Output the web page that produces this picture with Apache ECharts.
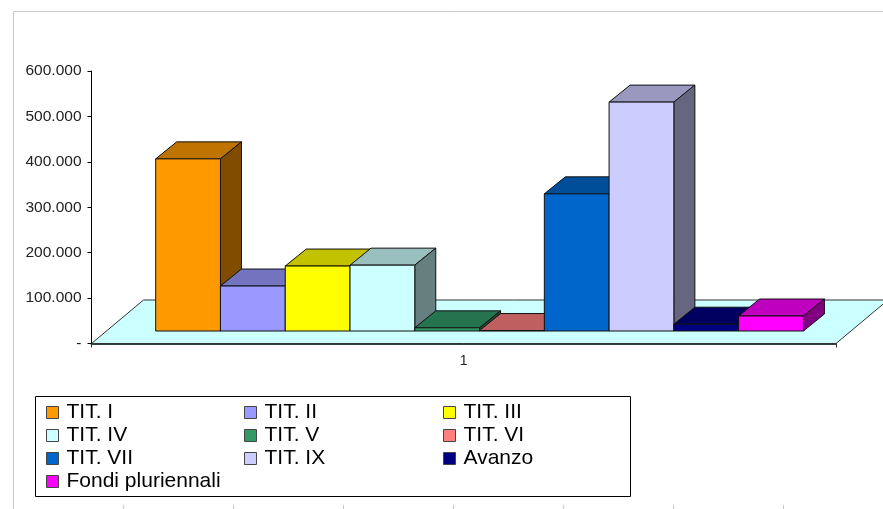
<!DOCTYPE html>
<html>
<head>
<meta charset="utf-8">
<title>Titoli</title>
<script src="https://cdn.jsdelivr.net/npm/echarts@6/dist/echarts.min.js"></script>
<style>
html, body { margin: 0; padding: 0; background: #fff; }
#chart { width: 883px; height: 509px; }
</style>
</head>
<body>
<div id="chart"></div>
<script>
var categories = ['1'];
var seriesNames = ['TIT. I', 'TIT. II', 'TIT. III', 'TIT. IV', 'TIT. V', 'TIT. VI', 'TIT. VII', 'TIT. IX', 'Avanzo', 'Fondi pluriennali'];
var seriesValues = [379000, 99000, 143000, 145000, 7000, 1000, 302000, 504000, 15000, 33000];
var yTicks = [0, 100000, 200000, 300000, 400000, 500000, 600000];

// front, top, side face of every bar
var frontColors = ['#FF9900', '#9999FF', '#FFFF00', '#CCFFFF', '#339966', '#FF8080', '#0066CC', '#CCCCFF', '#000080', '#FF00FF'];
var topColors = ['#BF7300', '#7373BF', '#C2C200', '#99BFBF', '#267350', '#BF6060', '#004D99', '#9999BF', '#000060', '#BF00BF'];
var sideColors = ['#804D00', '#4D4D80', '#808000', '#668080', '#1A4D33', '#804040', '#003366', '#666680', '#000040', '#800080'];

var FONT = '"Liberation Sans", Arial, sans-serif';
// projection of the floor and the bars, in pixels
var floorDepth = [52, -43.5];
var barOffset = [15.8, -12.5];
var barDepth = [21, -17];
var barShare = 0.87;

function poly(points, fill, stroke) {
    return {
        type: 'polygon',
        shape: { points: points },
        style: { fill: fill, stroke: stroke || '#111', lineWidth: 1 }
    };
}

function renderFloor(params, api) {
    var cs = params.coordSys;
    var x0 = cs.x, x1 = cs.x + cs.width, y = cs.y + cs.height;
    return poly([
        [x0, y], [x1, y],
        [x1 + floorDepth[0], y + floorDepth[1]],
        [x0 + floorDepth[0], y + floorDepth[1]]
    ], '#CCFFFF', '#333');
}

function barRenderer(i) {
    return function (params, api) {
        var band = api.size([1, 0])[0];
        var center = api.coord([api.value(0), 0]);
        var top = api.coord([api.value(0), api.value(1)]);
        var w = band * barShare / seriesNames.length;
        var x0 = center[0] - band / 2 + barOffset[0] + band * (1 - barShare) / 2 + i * w;
        var x1 = x0 + w;
        var yb = center[1] + barOffset[1];
        var yt = top[1] + barOffset[1];
        var dx = barDepth[0], dy = barDepth[1];
        return {
            type: 'group',
            children: [
                poly([[x0, yt], [x1, yt], [x1 + dx, yt + dy], [x0 + dx, yt + dy]], topColors[i]),
                poly([[x1, yb], [x1 + dx, yb + dy], [x1 + dx, yt + dy], [x1, yt]], sideColors[i]),
                poly([[x0, yb], [x1, yb], [x1, yt], [x0, yt]], frontColors[i])
            ]
        };
    };
}

var series = [{
    type: 'custom',
    name: 'floor',
    silent: true,
    renderItem: renderFloor,
    data: [[0, 0]],
    encode: { x: 0, y: 1 }
}];
seriesNames.forEach(function (name, i) {
    series.push({
        type: 'custom',
        name: name,
        itemStyle: { color: frontColors[i] },
        renderItem: barRenderer(i),
        data: [[categories[0], seriesValues[i]]],
        encode: { x: 0, y: 1 }
    });
});

function legendColumn(left, names) {
    return {
        orient: 'vertical',
        left: left,
        top: 400,
        padding: 0,
        itemWidth: 12,
        itemHeight: 12,
        itemGap: -2,
        icon: 'rect',
        selectedMode: false,
        data: names,
        itemStyle: { borderColor: '#444', borderWidth: 1 },
        // the labels sit a little higher than their markers
        textStyle: { fontFamily: FONT, fontSize: 21, color: '#000', height: 18, lineHeight: 18, padding: [0, 0, 7, 3] }
    };
}

function frameLine(x1, y1, x2, y2) {
    return {
        type: 'line',
        silent: true,
        shape: { x1: x1, y1: y1, x2: x2, y2: y2 },
        style: { stroke: '#C8C8C8', lineWidth: 1 }
    };
}

var frame = [
    frameLine(13.5, 11.5, 883, 11.5),
    frameLine(13.5, 11.5, 13.5, 509)
];
[123, 233, 343, 453, 563, 673, 783].forEach(function (x) {
    frame.push(frameLine(x + 0.5, 505, x + 0.5, 509));
});
frame.push({
    type: 'rect',
    silent: true,
    shape: { x: 35.5, y: 396.5, width: 595, height: 100 },
    style: { fill: '#fff', stroke: '#000', lineWidth: 1 }
});

var chart = echarts.init(document.getElementById('chart'));
chart.setOption({
    animation: false,
    backgroundColor: '#fff',
    tooltip: { show: false },
    grid: { left: 91.5, right: 47, top: 71, bottom: 165.5, containLabel: false },
    xAxis: {
        type: 'category',
        data: categories,
        axisLine: { lineStyle: { color: '#2F4444', width: 2 } },
        axisTick: { show: true, length: 4, lineStyle: { color: '#333', width: 1 } },
        axisLabel: { fontFamily: FONT, fontSize: 14, color: '#222', margin: 11 }
    },
    yAxis: {
        type: 'value',
        min: yTicks[0],
        max: yTicks[yTicks.length - 1],
        interval: 100000,
        splitLine: { show: false },
        axisLine: { show: true, lineStyle: { color: '#000', width: 1 } },
        axisTick: { show: true, length: 4, lineStyle: { color: '#000', width: 1 } },
        axisLabel: {
            fontFamily: FONT,
            fontSize: 15.5,
            color: '#222',
            margin: 10,
            padding: [3, 0, 0, 0],
            formatter: function (v) {
                return v === 0 ? '-' : String(v).replace(/\B(?=(\d{3})+$)/g, '.');
            }
        }
    },
    legend: [
        legendColumn(46, [seriesNames[0], seriesNames[3], seriesNames[6], seriesNames[9]]),
        legendColumn(244, [seriesNames[1], seriesNames[4], seriesNames[7]]),
        legendColumn(443, [seriesNames[2], seriesNames[5], seriesNames[8]])
    ],
    graphic: { elements: frame },
    series: series
});
</script>
</body>
</html>
